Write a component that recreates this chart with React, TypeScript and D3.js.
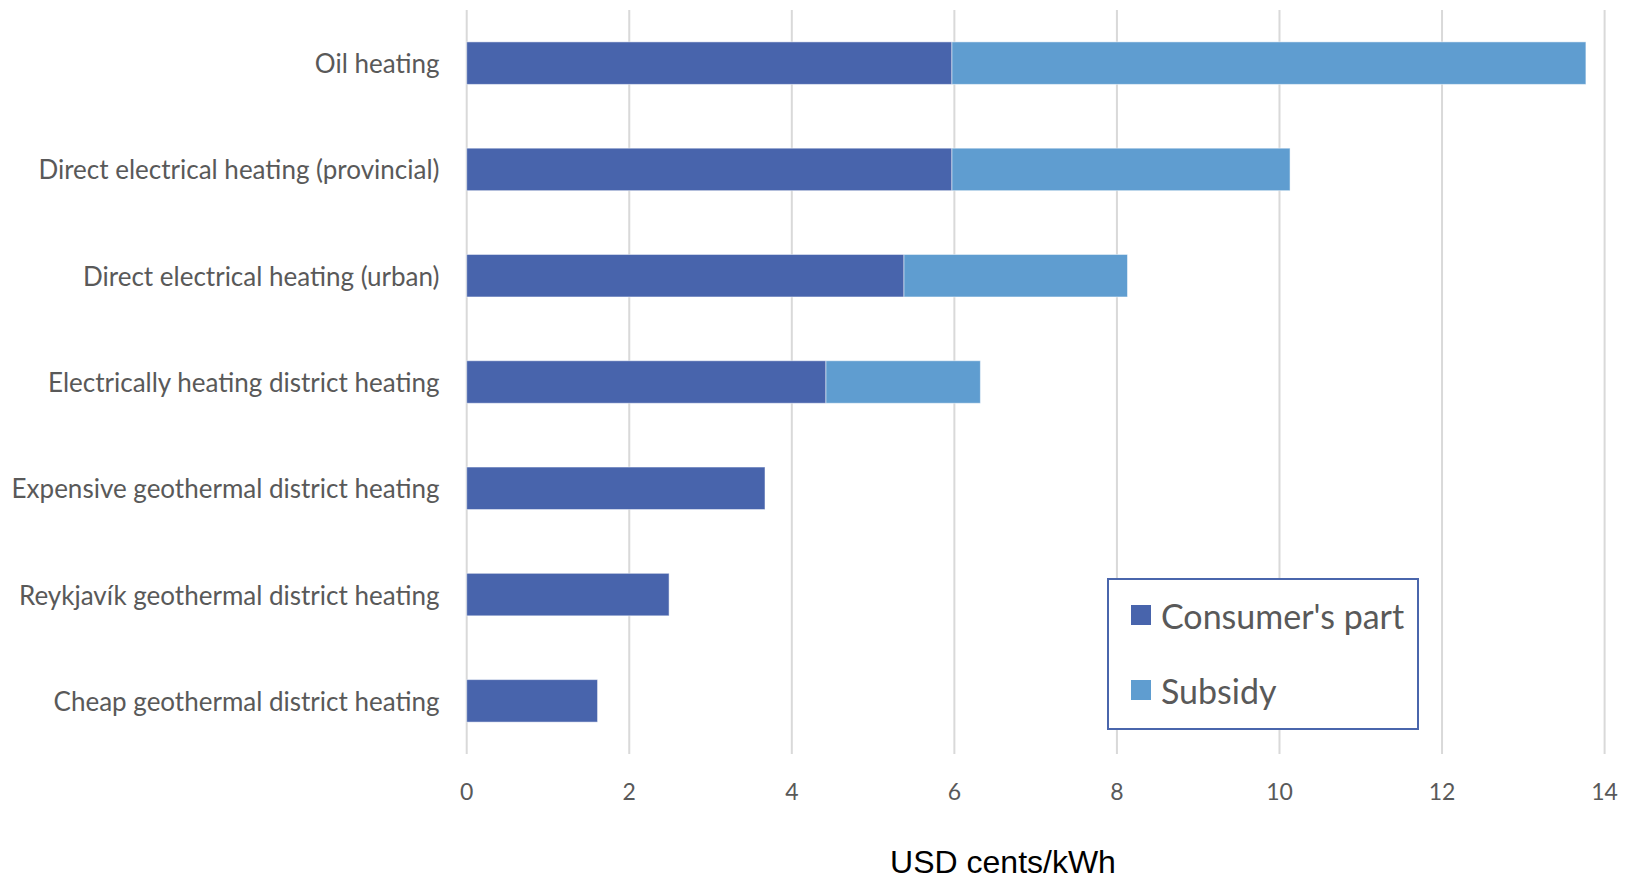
import React from "react";
import * as d3 from "d3";

const categories = [
  "Oil heating",
  "Direct electrical heating (provincial)",
  "Direct electrical heating (urban)",
  "Electrically heating district heating",
  "Expensive geothermal district heating",
  "Reykjavík geothermal district heating",
  "Cheap geothermal district heating",
];
const consumerPart = [5.97, 5.97, 5.38, 4.42, 3.67, 2.49, 1.61];
const subsidy = [7.8, 4.16, 2.75, 1.9, 0, 0, 0];
const xTicks = [0, 2, 4, 6, 8, 10, 12, 14];
const seriesNames = ["Consumer's part", "Subsidy"];
const colors = ["#4864ac", "#5f9dd0"];

const W = 1637;
const H = 880;
const FONT = "Lato, 'Open Sans', sans-serif";

export default function App() {
  const x = d3.scaleLinear().domain([0, 14]).range([466.7, 1604.6]);
  const y = d3
    .scaleBand<string>()
    .domain(categories)
    .range([10, 754])
    .paddingInner(0.6)
    .paddingOuter(0.3);

  const stackData = categories.map((c, i) => ({ c, a: consumerPart[i], b: subsidy[i] }));
  const stacked = d3.stack<any>().keys(["a", "b"])(stackData);

  return (
    <svg
      width={W}
      height={H}
      style={{ position: "absolute", left: 0, top: 0, background: "#fff" }}
    >
      {xTicks.map((t) => (
        <line
          key={"g" + t}
          x1={x(t)}
          x2={x(t)}
          y1={10}
          y2={754}
          stroke="#d9d9d9"
          strokeWidth={2}
        />
      ))}
      {stacked.map((layer, li) => (
        <g key={"l" + li} fill={colors[li]}>
          {layer.map((d: any, i: number) =>
            d[1] - d[0] > 0 ? (
              <rect
                key={i}
                x={x(d[0])}
                y={y(categories[i])}
                width={x(d[1]) - x(d[0])}
                height={y.bandwidth()}
                stroke="#ffffff"
                strokeOpacity={0.5}
                strokeWidth={1}
              />
            ) : null
          )}
        </g>
      ))}
      {categories.map((c) => (
        <text
          key={"c" + c}
          x={439.5}
          y={(y(c) as number) + y.bandwidth() / 2}
          textAnchor="end"
          dominantBaseline="central"
          fontFamily={FONT}
          fontSize={26}
          fill="#595959"
        >
          {c}
        </text>
      ))}
      {xTicks.map((t) => (
        <text
          key={"t" + t}
          x={x(t)}
          y={791}
          textAnchor="middle"
          dominantBaseline="central"
          fontFamily={FONT}
          fontSize={23}
          fill="#595959"
        >
          {t}
        </text>
      ))}
      <text
        x={1003}
        y={862}
        textAnchor="middle"
        dominantBaseline="central"
        fontFamily="'Liberation Sans', Arial, sans-serif"
        fontSize={32}
        fill="#000"
      >
        USD cents/kWh
      </text>
      <rect
        x={1108}
        y={579}
        width={310}
        height={150}
        fill="#fff"
        stroke="#4a66ac"
        strokeWidth={2}
      />
      {seriesNames.map((s, i) => (
        <g key={"lg" + s}>
          <rect x={1131} y={(i === 0 ? 615 : 690) - 10} width={20} height={20} fill={colors[i]} />
          <text
            x={1161}
            y={i === 0 ? 615 : 690}
            dominantBaseline="central"
            fontFamily={FONT}
            fontSize={34}
            fill="#595959"
          >
            {s}
          </text>
        </g>
      ))}
    </svg>
  );
}
